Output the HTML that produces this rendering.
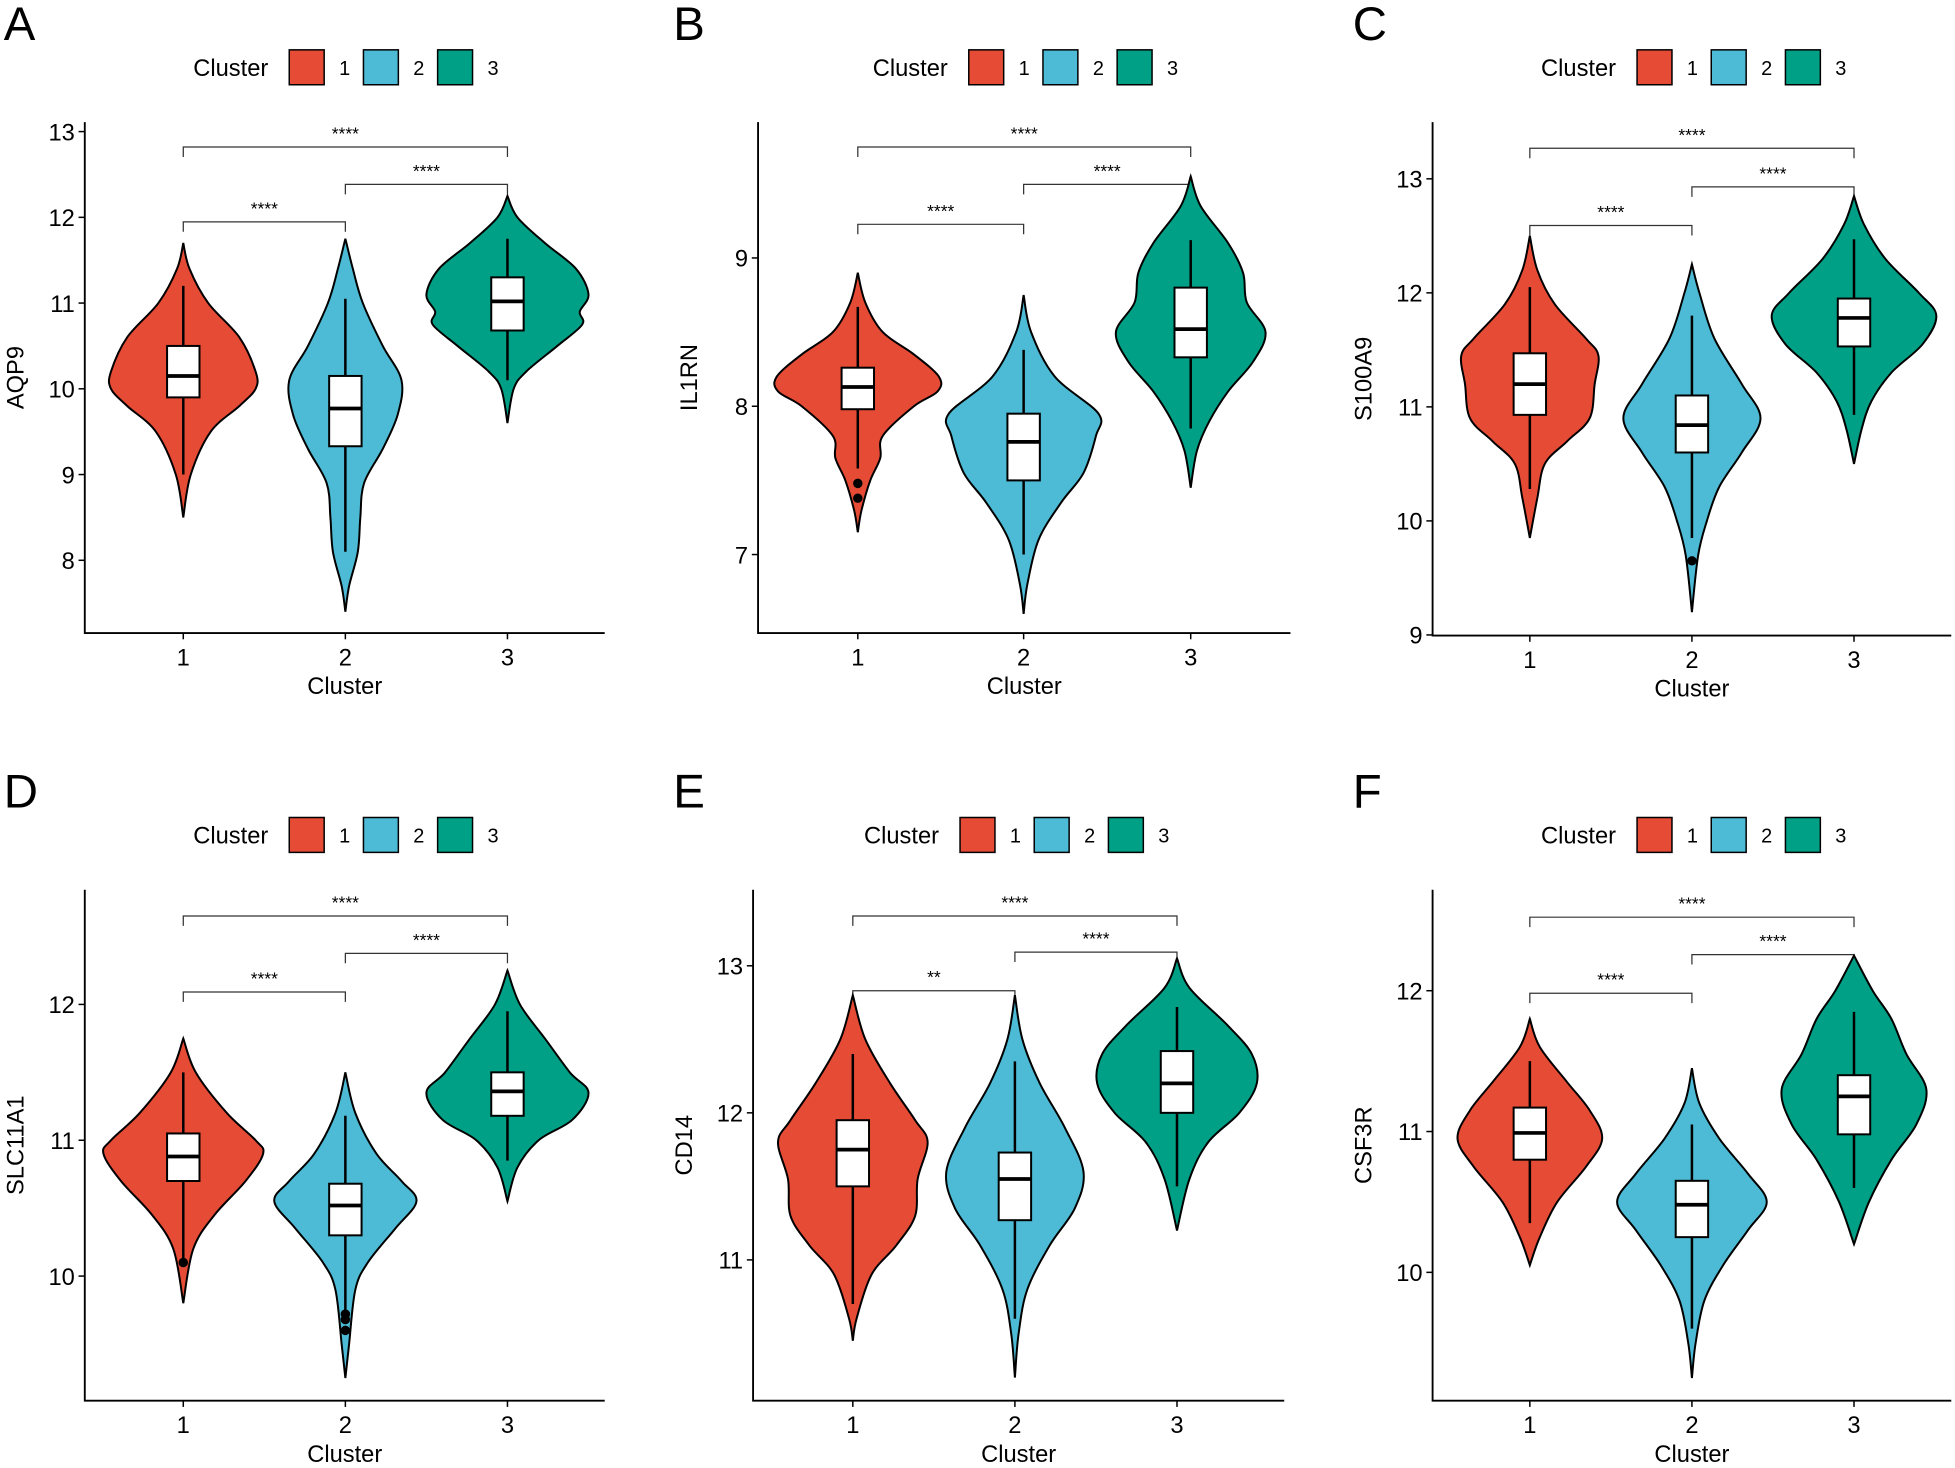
<!DOCTYPE html>
<html><head><meta charset="utf-8">
<style>html,body{margin:0;padding:0;background:#fff;}svg{display:block;}
text{font-family:"Liberation Sans",Arial,sans-serif;fill:#000;}</style></head>
<body>
<svg id="s" width="1955" height="1468" viewBox="0 0 1568 1178" preserveAspectRatio="none" xmlns="http://www.w3.org/2000/svg"></svg>
<script>
var C=["#E64B35","#4DBBD5","#00A087"];
var panels=[
{L:"A",lx:3,ax:68,top:98,bot:508,right:485,cx:[147,277,407],y0:312,v0:10,k:68.8,ticks:[8,9,10,11,12,13],title:"AQP9",legx:155,br:[118,148,178],s3:"****",
 v:[{p:[[11.7,0],[11.4,5],[11.0,20],[10.6,45],[10.2,58],[10.0,58],[9.8,45],[9.5,22],[9.0,6],[8.5,0]],b:[9.9,10.15,10.5,9.0,11.2],o:[]},
    {p:[[11.75,0],[11.4,6],[11,14],[10.5,30],[10.1,45],[9.7,42],[9.3,30],[8.9,15],[8.5,12],[8.1,10],[7.7,3],[7.4,0]],b:[9.33,9.77,10.15,8.1,11.05],o:[]},
    {p:[[12.25,0],[12.0,8],[11.7,30],[11.4,55],[11.1,65],[10.9,58],[10.75,60],[10.5,40],[10.2,15],[10.0,5],[9.6,0]],b:[10.68,11.02,11.3,10.1,11.75],o:[]}]},
{L:"B",lx:540,ax:608,top:98,bot:508,right:1035,cx:[688,821,955],y0:326,v0:8,k:119,ticks:[7,8,9],title:"IL1RN",legx:700,br:[118,148,180],s3:"****",
 v:[{p:[[8.9,0],[8.7,6],[8.5,20],[8.35,45],[8.2,65],[8.1,64],[8.0,45],[7.8,20],[7.65,18],[7.5,10],[7.3,3],[7.15,0]],b:[7.98,8.13,8.26,7.58,8.67],o:[7.48,7.38]},
    {p:[[8.75,0],[8.5,6],[8.2,25],[7.95,60],[7.8,58],[7.55,48],[7.35,30],[7.1,12],[6.8,3],[6.6,0]],b:[7.5,7.76,7.95,7.0,8.38],o:[]},
    {p:[[9.55,0],[9.35,8],[9.1,30],[8.9,42],[8.7,45],[8.5,60],[8.3,50],[8.1,30],[7.9,15],[7.7,5],[7.45,0]],b:[8.33,8.52,8.8,7.85,9.12],o:[]}]},
{L:"C",lx:1085,ax:1149,top:98,bot:510,right:1565,cx:[1227,1357,1487],y0:418,v0:10,k:91.5,ticks:[9,10,11,12,13],title:"S100A9",legx:1236,br:[119,150,181],s3:"****",
 v:[{p:[[12.5,0],[12.2,6],[11.9,20],[11.6,45],[11.45,55],[11.2,52],[10.9,48],[10.7,30],[10.5,12],[10.2,6],[9.85,0]],b:[10.93,11.2,11.47,10.28,12.05],o:[]},
    {p:[[12.25,0],[12.0,6],[11.6,18],[11.2,40],[10.9,55],[10.6,40],[10.3,22],[10.0,12],[9.7,5],[9.2,0]],b:[10.6,10.84,11.1,9.85,11.8],o:[9.65]},
    {p:[[12.85,0],[12.6,8],[12.3,25],[12.0,52],[11.8,66],[11.55,55],[11.3,30],[11.05,14],[10.8,6],[10.5,0]],b:[11.53,11.78,11.95,10.93,12.47],o:[]}]},
{L:"D",lx:3,ax:68,top:714,bot:1124,right:485,cx:[147,277,407],y0:1024,v0:10,k:109,ticks:[10,11,12],title:"SLC11A1",legx:155,br:[735,765,796],s3:"****",
 v:[{p:[[11.75,0],[11.5,10],[11.2,35],[11.0,58],[10.9,64],[10.7,50],[10.45,25],[10.2,8],[9.8,0]],b:[10.7,10.88,11.05,10.1,11.5],o:[10.1]},
    {p:[[11.5,0],[11.2,8],[10.9,25],[10.7,45],[10.55,57],[10.35,40],[10.1,18],[9.9,8],[9.5,3],[9.25,0]],b:[10.3,10.52,10.68,9.75,11.18],o:[9.72,9.68,9.6]},
    {p:[[12.25,0],[12.0,10],[11.75,30],[11.5,50],[11.35,65],[11.15,52],[11.0,25],[10.8,8],[10.55,0]],b:[11.18,11.36,11.5,10.85,11.95],o:[]}]},
{L:"E",lx:540,ax:604,top:714,bot:1124,right:1030,cx:[684,814,944],y0:893,v0:12,k:118,ticks:[11,12,13],title:"CD14",legx:693,br:[735,764,795],s3:"**",
 v:[{p:[[12.8,0],[12.5,10],[12.2,30],[11.95,50],[11.8,60],[11.55,52],[11.3,50],[11.1,35],[10.9,15],[10.6,3],[10.45,0]],b:[11.5,11.75,11.95,10.7,12.4],o:[]},
    {p:[[12.8,0],[12.5,6],[12.2,20],[11.9,40],[11.6,55],[11.35,48],[11.1,28],[10.8,10],[10.5,3],[10.2,0]],b:[11.27,11.55,11.73,10.6,12.35],o:[]},
    {p:[[13.05,0],[12.85,10],[12.6,40],[12.4,60],[12.2,64],[12.0,50],[11.8,25],[11.55,10],[11.2,0]],b:[12.0,12.2,12.42,11.5,12.72],o:[]}]},
{L:"F",lx:1085,ax:1149,top:714,bot:1124,right:1565,cx:[1227,1357,1487],y0:908,v0:11,k:113,ticks:[10,11,12],title:"CSF3R",legx:1236,br:[736,766,797],s3:"****",
 v:[{p:[[11.8,0],[11.6,8],[11.35,30],[11.15,48],[10.95,58],[10.75,45],[10.5,22],[10.25,8],[10.05,0]],b:[10.8,10.99,11.17,10.35,11.5],o:[]},
    {p:[[11.45,0],[11.2,6],[10.95,22],[10.7,45],[10.5,60],[10.3,45],[10.05,25],[9.8,10],[9.5,3],[9.25,0]],b:[10.25,10.48,10.65,9.6,11.05],o:[]},
    {p:[[12.25,0],[12.0,15],[11.8,30],[11.55,42],[11.3,58],[11.05,50],[10.8,30],[10.5,12],[10.2,0]],b:[10.98,11.25,11.4,10.6,11.85],o:[]}]}
];
var out=[];
function crPath(pts){
  var d="M"+pts[0][0].toFixed(1)+","+pts[0][1].toFixed(1);
  for(var i=0;i<pts.length-1;i++){
    var p0=pts[i-1]||pts[i],p1=pts[i],p2=pts[i+1],p3=pts[i+2]||p2;
    var c1=[p1[0]+(p2[0]-p0[0])/6,p1[1]+(p2[1]-p0[1])/6];
    var c2=[p2[0]-(p3[0]-p1[0])/6,p2[1]-(p3[1]-p1[1])/6];
    d+="C"+c1[0].toFixed(1)+","+c1[1].toFixed(1)+" "+c2[0].toFixed(1)+","+c2[1].toFixed(1)+" "+p2[0].toFixed(1)+","+p2[1].toFixed(1);
  }
  return d;
}
panels.forEach(function(P){
  var Y=function(v){return P.y0-(v-P.v0)*P.k;};
  var ly=P.top<300?54:670;
  out.push('<text x="'+P.lx+'" y="'+(P.top<300?32:648)+'" font-size="38">'+P.L+'</text>');
  out.push('<text x="'+P.legx+'" y="'+(ly+7)+'" font-size="19">Cluster</text>');
  for(var i=0;i<3;i++){
    var bx=P.legx+77+i*59.5;
    out.push('<rect x="'+bx+'" y="'+(ly-14)+'" width="28" height="28" fill="'+C[i]+'" stroke="#000" stroke-width="1.2"/>');
    out.push('<text x="'+(bx+40)+'" y="'+(ly+6)+'" font-size="16">'+(i+1)+'</text>');
  }
  out.push('<path d="M'+P.ax+','+P.top+'V'+P.bot+'H'+P.right+'" fill="none" stroke="#000" stroke-width="1.5"/>');
  P.ticks.forEach(function(t){var y=Y(t);
    out.push('<line x1="'+(P.ax-5)+'" x2="'+P.ax+'" y1="'+y+'" y2="'+y+'" stroke="#000" stroke-width="1.2"/>');
    out.push('<text x="'+(P.ax-8)+'" y="'+(y+7)+'" font-size="19" text-anchor="end">'+t+'</text>');});
  P.cx.forEach(function(x,i){
    out.push('<line x1="'+x+'" x2="'+x+'" y1="'+P.bot+'" y2="'+(P.bot+5)+'" stroke="#000" stroke-width="1.2"/>');
    out.push('<text x="'+x+'" y="'+(P.bot+26)+'" font-size="19" text-anchor="middle">'+(i+1)+'</text>');});
  out.push('<text x="'+((P.ax+P.right)/2)+'" y="'+(P.bot+49)+'" font-size="19" text-anchor="middle">Cluster</text>');
  var my=(P.top+P.bot)/2;
  out.push('<text transform="translate('+(P.ax-49)+','+my+') rotate(-90)" font-size="19" text-anchor="middle">'+P.title+'</text>');
  var pairs=[[0,2,P.br[0],"****"],[1,2,P.br[1],"****"],[0,1,P.br[2],P.s3]];
  pairs.forEach(function(q){var x1=P.cx[q[0]],x2=P.cx[q[1]],y=q[2];
    out.push('<path d="M'+x1+','+(y+8)+'V'+y+'H'+x2+'V'+(y+8)+'" fill="none" stroke="#333" stroke-width="1"/>');
    out.push('<text x="'+((x1+x2)/2)+'" y="'+(y-6)+'" font-size="14" text-anchor="middle">'+q[3]+'</text>');});
  P.v.forEach(function(V,i){var cx=P.cx[i];
    var R=V.p.map(function(a){return [cx+a[1],Y(a[0])];});
    var Lp=V.p.slice().reverse().map(function(a){return [cx-a[1],Y(a[0])];});
    var d=crPath(R)+crPath(Lp).replace(/^M[^C]*/,"")+"Z";
    out.push('<path d="'+d+'" fill="'+C[i]+'" stroke="#000" stroke-width="1.6"/>');
    var b=V.b;
    out.push('<line x1="'+cx+'" x2="'+cx+'" y1="'+Y(b[3])+'" y2="'+Y(b[4])+'" stroke="#000" stroke-width="2"/>');
    out.push('<rect x="'+(cx-13)+'" y="'+Y(b[2])+'" width="26" height="'+(Y(b[0])-Y(b[2]))+'" fill="#fff" stroke="#000" stroke-width="1.6"/>');
    out.push('<line x1="'+(cx-13)+'" x2="'+(cx+13)+'" y1="'+Y(b[1])+'" y2="'+Y(b[1])+'" stroke="#000" stroke-width="3"/>');
    V.o.forEach(function(o){out.push('<circle cx="'+cx+'" cy="'+Y(o)+'" r="3.8" fill="#000"/>');});
  });
});
document.getElementById("s").innerHTML=out.join("");
</script>
</body></html>
